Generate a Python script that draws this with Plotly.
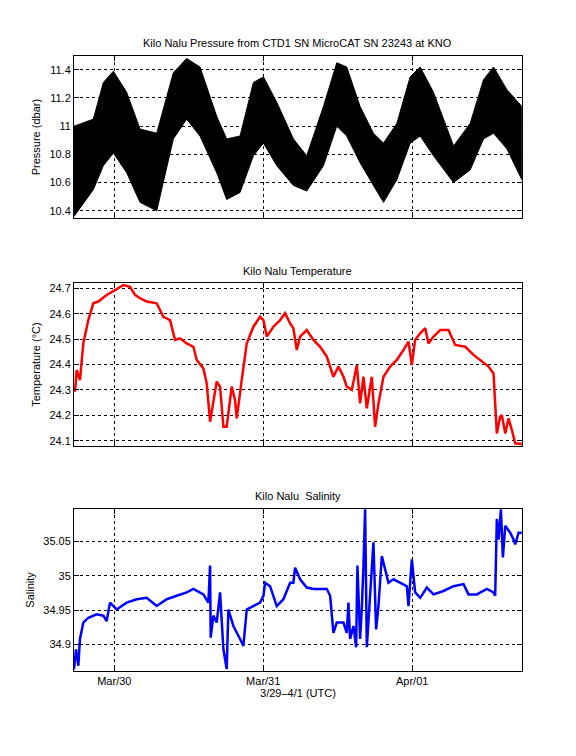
import pandas as pd
import plotly.graph_objects as go

# hours since 2010-03-29 00:00 UTC
p_hours = [17.50, 20.61, 22.23, 23.84, 25.99, 28.14, 30.83, 33.51, 35.66, 37.81, 40.50, 42.11,
           44.26, 46.41, 48.03, 50.18, 52.86, 55.01, 57.70, 59.85, 61.46, 63.61, 65.76, 67.38,
           69.53, 71.68, 73.29, 75.44, 78.67, 81.35, 83.50, 85.11, 87.26, 89.68]
p_upper = [11.00, 11.05, 11.31, 11.39, 11.24, 10.98, 10.95, 11.38, 11.48, 11.42, 11.07, 10.91,
           10.93, 11.31, 11.35, 11.17, 10.91, 10.79, 11.14, 11.45, 11.42, 11.14, 10.95, 10.88,
           11.02, 11.35, 11.42, 11.24, 10.86, 11.02, 11.33, 11.42, 11.26, 11.14]
p_lower = [10.36, 10.55, 10.72, 10.81, 10.67, 10.46, 10.40, 10.91, 11.05, 10.93, 10.67, 10.48,
           10.53, 10.79, 10.88, 10.72, 10.58, 10.54, 10.72, 11.00, 10.93, 10.74, 10.58, 10.46,
           10.62, 10.88, 10.93, 10.79, 10.60, 10.69, 10.91, 10.95, 10.84, 10.62]

t_hours = [17.66, 17.93, 18.46, 19.00, 19.81, 20.61, 21.42, 22.76, 24.11, 25.45, 26.53, 27.33,
           28.14, 29.21, 30.83, 31.90, 32.98, 33.78, 34.59, 35.66, 36.74, 37.28, 38.35, 38.89,
           39.43, 39.96, 40.50, 41.04, 41.58, 42.11, 42.92, 43.46, 43.73, 44.53, 45.34, 46.41,
           47.49, 48.03, 48.56, 49.64, 50.72, 51.52, 52.33, 52.86, 53.40, 53.94, 55.01, 56.09,
           57.16, 58.24, 59.31, 60.12, 60.93, 61.46, 62.27, 63.08, 63.61, 64.15, 64.69, 65.50,
           66.03, 66.57, 67.38, 68.45, 69.53, 70.60, 71.41, 71.95, 72.48, 73.29, 74.10, 74.63,
           75.44, 76.52, 77.86, 78.93, 80.55, 81.89, 82.96, 84.31, 85.11, 85.65, 86.19, 86.46,
           87.00, 87.53, 88.07, 88.61, 89.68]
t_vals = [24.293, 24.378, 24.339, 24.483, 24.575, 24.641, 24.648, 24.674, 24.693, 24.713, 24.706, 24.674,
          24.661, 24.648, 24.641, 24.588, 24.575, 24.497, 24.503, 24.483, 24.470, 24.418, 24.385, 24.326,
          24.175, 24.247, 24.333, 24.313, 24.155, 24.155, 24.313, 24.260, 24.188, 24.339, 24.483, 24.549,
          24.588, 24.575, 24.510, 24.549, 24.575, 24.602, 24.562, 24.543, 24.457, 24.510, 24.536, 24.497,
          24.470, 24.431, 24.352, 24.392, 24.352, 24.313, 24.300, 24.398, 24.247, 24.352, 24.228, 24.352,
          24.155, 24.247, 24.352, 24.392, 24.418, 24.457, 24.490, 24.398, 24.497, 24.523, 24.543, 24.483,
          24.510, 24.536, 24.536, 24.477, 24.470, 24.438, 24.418, 24.392, 24.365, 24.129, 24.195, 24.201,
          24.129, 24.188, 24.142, 24.090, 24.087]

s_hours = [17.50, 17.82, 18.20, 18.46, 19.00, 19.81, 21.15, 22.23, 22.76, 23.30, 24.38, 25.99,
           27.60, 29.21, 30.83, 32.44, 34.05, 35.66, 36.74, 38.35, 39.16, 39.43, 39.53, 39.96,
           40.50, 41.04, 41.58, 42.11, 42.38, 43.19, 44.26, 44.80, 45.34, 46.41, 47.49, 48.03,
           48.30, 49.10, 50.18, 51.25, 52.33, 52.86, 53.13, 53.94, 55.01, 56.09, 57.16, 58.24,
           58.78, 59.31, 59.85, 60.93, 61.46, 61.73, 62.00, 62.54, 62.97, 63.18, 63.61, 63.88,
           64.15, 64.42, 64.69, 65.23, 65.76, 66.19, 66.57, 67.11, 67.65, 68.18, 68.99, 70.06,
           71.14, 71.41, 71.95, 72.48, 73.29, 74.37, 75.44, 77.05, 78.67, 80.28, 81.08, 82.43,
           84.04, 85.11, 85.38, 85.65, 85.92, 86.30, 86.62, 87.00, 87.80, 88.34, 88.61, 89.15, 89.68]
s_vals = [34.864, 34.893, 34.869, 34.908, 34.932, 34.939, 34.944, 34.942, 34.934, 34.961, 34.951, 34.961,
          34.966, 34.968, 34.956, 34.966, 34.971, 34.976, 34.981, 34.973, 34.961, 35.015, 34.910, 34.942,
          34.932, 34.976, 34.893, 34.864, 34.951, 34.927, 34.908, 34.898, 34.951, 34.956, 34.961, 34.971,
          34.990, 34.985, 34.956, 34.966, 34.990, 34.990, 35.012, 34.995, 34.983, 34.981, 34.981, 34.981,
          34.971, 34.917, 34.932, 34.932, 34.917, 34.961, 34.908, 34.927, 34.896, 35.015, 34.908, 34.951,
          35.015, 35.097, 34.896, 34.966, 35.049, 34.922, 34.956, 35.029, 35.010, 34.990, 34.995, 34.990,
          34.985, 34.956, 35.024, 34.976, 34.968, 34.983, 34.973, 34.978, 34.985, 34.988, 34.973, 34.973,
          34.981, 34.976, 34.971, 35.083, 35.053, 35.097, 35.027, 35.073, 35.063, 35.053, 35.046, 35.063, 35.063]

base = pd.Timestamp("2010-03-29")


def to_time(hours):
    return [base + pd.Timedelta(hours=h) for h in hours]


font = dict(family="Liberation Sans, Arial", size=11, color="black")
x_range = [base + pd.Timedelta(hours=17.5), base + pd.Timedelta(hours=89.7)]
# page body adds an 8px margin, so the figure is 568x748 and offset by 8px
x_dom = [0.1162, 0.9049]
y_doms = [[0.7193, 0.9372], [0.4144, 0.6324], [0.1123, 0.3302]]

fig = go.Figure()
fig.add_trace(go.Scatter(x=to_time(p_hours), y=p_lower, mode="lines",
                         line=dict(color="black", width=1), xaxis="x", yaxis="y"))
fig.add_trace(go.Scatter(x=to_time(p_hours), y=p_upper, mode="lines", fill="tonexty",
                         fillcolor="black", line=dict(color="black", width=1), xaxis="x", yaxis="y"))
fig.add_trace(go.Scatter(x=to_time(t_hours), y=t_vals, mode="lines",
                         line=dict(color="red", width=2.5), xaxis="x2", yaxis="y2"))
fig.add_trace(go.Scatter(x=to_time(s_hours), y=s_vals, mode="lines",
                         line=dict(color="blue", width=2.5), xaxis="x3", yaxis="y3"))

common_x = dict(domain=x_dom, range=x_range, showgrid=True, gridcolor="black", griddash="dot",
                gridwidth=1, showline=True, linecolor="black", mirror="ticks", ticks="inside",
                ticklen=5, tickcolor="black", dtick=86400000, tick0=base, zeroline=False,
                tickfont=font)
common_y = dict(showgrid=True, gridcolor="black", griddash="dot", gridwidth=1, showline=True,
                linecolor="black", mirror="ticks", ticks="inside", ticklen=5, tickcolor="black",
                zeroline=False, tickfont=font)

fig.update_layout(
    width=568, height=748, margin=dict(l=0, r=0, t=0, b=0),
    paper_bgcolor="white", plot_bgcolor="white", showlegend=False, font=font,
    xaxis=dict(common_x, anchor="y", showticklabels=False),
    xaxis2=dict(common_x, anchor="y2", showticklabels=False),
    xaxis3=dict(common_x, anchor="y3", tickformat="%b/%d",
                title=dict(text="3/29\u20134/1 (UTC)", standoff=0, font=font)),
    yaxis=dict(common_y, domain=y_doms[0], range=[10.346, 11.499], dtick=0.2, tick0=10.4,
               title=dict(text="Pressure (dbar)", font=font, standoff=6)),
    yaxis2=dict(common_y, domain=y_doms[1], range=[24.08, 24.72], dtick=0.1, tickformat=".1f",
                title=dict(text="Temperature (\u00b0C)", font=font, standoff=6)),
    yaxis3=dict(common_y, domain=y_doms[2], range=[34.861, 35.098], dtick=0.05, tick0=34.9,
                title=dict(text="Salinity", font=font, standoff=6)),
    annotations=[
        dict(text="Kilo Nalu Pressure from CTD1 SN MicroCAT SN 23243 at KNO", xref="paper",
             yref="paper", x=0.51, y=y_doms[0][1] + 0.006, showarrow=False, yanchor="bottom"),
        dict(text="Kilo Nalu Temperature", xref="paper", yref="paper", x=0.51,
             y=y_doms[1][1] + 0.006, showarrow=False, yanchor="bottom"),
        dict(text="Kilo Nalu  Salinity", xref="paper", yref="paper", x=0.51,
             y=y_doms[2][1] + 0.006, showarrow=False, yanchor="bottom"),
    ],
)

fig.write_html("out.html")
